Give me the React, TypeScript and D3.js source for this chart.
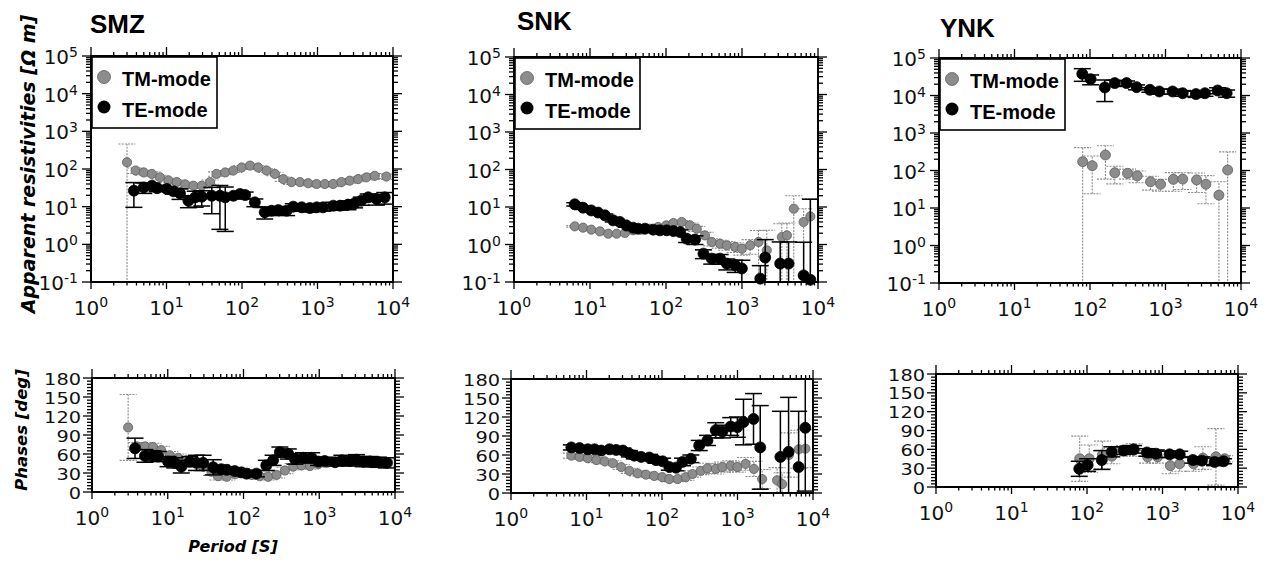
import React from 'react';
import * as d3 from 'd3';

// Periods [s], apparent resistivity [ohm m], phase [deg]; errors are +/- in the same units

// SMZ
const smzTmT = [3.0, 3.9, 5.0, 6.4, 8.2, 10.6, 13.7, 17.7, 22.8, 29.3, 37.8, 46, 60, 77, 99, 128, 164, 212, 273, 352, 453, 585, 753, 970, 1250, 1610, 2080, 2670, 3450, 4450, 5730, 8170];
const smzTmRho = [151, 91, 81, 74, 60, 50, 45, 39, 36, 36, 45, 74, 81, 91, 110, 123, 110, 91, 74, 54, 45, 45, 42, 40, 40, 40, 45, 49, 54, 60, 66, 63];
const smzTmRhoErr = [310, 15, 12, 10, 8, 7, 6, 6, 5, 5, 6, 10, 10, 10, 12, 12, 12, 10, 8, 7, 6, 6, 6, 6, 6, 6, 6, 7, 8, 9, 10, 10];
const smzTmPhi = [102, 72, 72, 71, 66, 58, 54, 50, 46, 40, 32, 25, 24, 28, 30, 27, 25, 24, 27, 34, 40, 42, 41, 44, 46, 47, 48, 48, 47, 47, 46, 46];
const smzTmPhiErr = [52, 6, 6, 6, 6, 6, 6, 6, 6, 6, 6, 6, 5, 5, 5, 5, 5, 5, 5, 5, 5, 5, 5, 5, 5, 5, 5, 5, 5, 5, 5, 5];

const smzTeT = [3.7, 5.0, 6.4, 7.5, 10.1, 12.4, 15.1, 19.5, 24, 29.3, 39.8, 51, 60, 77, 94, 110, 148, 200, 246, 302, 390, 478, 617, 794, 977, 1180, 1620, 1990, 2530, 3100, 3800, 4690, 6020, 7770];
const smzTeRho = [26.6, 32.5, 36, 31, 29.5, 25.5, 22.6, 14.4, 17.7, 18.4, 19.5, 19.5, 17.7, 19.5, 21.7, 20.4, 13, 7.1, 7.8, 8.1, 7.8, 10, 9.6, 9.2, 9.6, 9.6, 10.6, 10.6, 11.3, 12.3, 14.4, 17.7, 16, 17.7];
const smzTeRhoErr = [17, 10, 6, 6, 4, 4, 7, 5, 8, 8, 13, 17, 15.5, 3, 3, 4, 3, 2.4, 2, 2, 2, 2, 2, 2, 2, 2, 2.5, 2.5, 3, 3, 3.5, 4, 5, 6];
const smzTePhi = [69, 57, 57, 56, 48, 46, 40, 48, 46, 46, 39, 36, 35, 33, 31, 29, 29, 42, 50, 63, 60, 52, 54, 54, 48, 49, 47, 50, 49, 51, 48, 48, 47, 46];
const smzTePhiErr = [16, 10, 8, 8, 8, 8, 10, 8, 12, 12, 12, 6, 5, 5, 5, 5, 5, 8, 8, 8, 8, 8, 8, 8, 6, 6, 6, 8, 8, 8, 8, 8, 8, 8];

// SNK
const snkTmT = [6.3, 8.1, 10.4, 13.5, 17.4, 22.4, 28.8, 37, 47.6, 61.3, 78.8, 101, 125, 161, 207, 254, 326, 400, 515, 631, 813, 995, 1280, 1650, 2120, 3340, 3900, 4800, 6470, 7930];
const snkTmRho = [3.05, 2.81, 2.49, 2.24, 1.94, 1.94, 2.03, 2.39, 2.49, 2.64, 2.93, 3.24, 3.74, 3.98, 3.24, 2.64, 1.75, 1.17, 1.05, 0.95, 0.86, 0.77, 0.95, 1.17, 0.7, 1.58, 1.75, 9.0, 3.98, 5.6];
const snkTmRhoErr = [0.15, 0.15, 0.12, 0.1, 0.1, 0.1, 0.1, 0.12, 0.12, 0.15, 0.15, 0.2, 0.3, 0.4, 0.5, 0.4, 0.35, 0.25, 0.25, 0.25, 0.25, 0.25, 0.4, 1.2, 1.7, 2, 2, 11, 5, 11];
const snkTmPhi = [59, 57, 55, 52, 50, 47, 41, 35, 31, 29, 27, 25, 22, 22, 25, 30, 35, 39, 38, 41, 43, 41, 46, 38, 22, 20, 14, 60, 69, 70];
const snkTmPhiErr = [4, 4, 4, 4, 4, 4, 4, 4, 4, 4, 4, 4, 4, 4, 5, 5, 6, 8, 8, 8, 8, 8, 10, 12, 15, 20, 18, 35, 30, 30];

const snkTeT = [6.3, 8.1, 10.4, 12.8, 15.7, 20.2, 24.7, 30.3, 37, 43, 53, 68, 83, 102, 125, 153, 187, 241, 311, 400, 515, 631, 813, 995, 1740, 2020, 3180, 4100, 6470, 7930];
const snkTeRho = [11.8, 9.6, 8.1, 7.1, 6.0, 4.4, 4.0, 3.2, 2.8, 2.64, 2.64, 2.49, 2.39, 2.39, 2.29, 2.15, 1.43, 1.35, 0.57, 0.42, 0.42, 0.31, 0.28, 0.23, 0.123, 0.45, 0.31, 0.31, 0.15, 0.115];
const snkTeRhoErr = [1.2, 1, 0.8, 0.6, 0.5, 0.4, 0.35, 0.3, 0.25, 0.2, 0.2, 0.2, 0.2, 0.2, 0.2, 0.3, 0.3, 0.35, 0.15, 0.12, 0.12, 0.1, 0.1, 0.15, 0.15, 0.9, 0.86, 0.86, 1.0, 16];
const snkTePhT = [6.3, 8.1, 10.4, 12.8, 15.7, 20.2, 24.7, 30.3, 37, 43, 53, 68, 83, 102, 125, 153, 187, 241, 311, 400, 515, 631, 813, 995, 1200, 1630, 2000, 3700, 4750, 6450, 7900];
const snkTePhi = [72, 71, 69, 69, 67, 69, 68, 67, 62, 59, 57, 56, 52, 50, 41, 40, 49, 54, 75, 83, 99, 97, 105, 104, 112, 117, 72, 57, 65, 41, 103];
const snkTePhiErr = [4, 4, 4, 4, 4, 4, 4, 4, 5, 5, 5, 5, 5, 5, 5, 5, 6, 6, 8, 8, 12, 10, 14, 16, 36, 40, 66, 72, 86, 88, 100];

// YNK
const ynkTmT = [80, 107, 160, 213, 314, 422, 634, 860, 1270, 1690, 2580, 3430, 5100, 6660];
const ynkTmRho = [172, 134, 259, 87, 84, 72, 50, 43, 58, 59, 56, 43, 22, 103];
const ynkTmRhoErr = [236, 110, 200, 43, 25, 25, 20, 15, 30, 28, 30, 30, 28, 210];
const ynkTmPhi = [45, 45, 51, 49, 58, 59, 48, 48, 34, 37, 37, 46, 48, 45];
const ynkTmPhiErr = [36, 22, 22, 12, 8, 10, 10, 10, 13, 12, 12, 18, 45, 5];

const ynkTeT = [79, 102, 157, 213, 305, 414, 621, 827, 1240, 1690, 2530, 3330, 4900, 6450];
const ynkTeRho = [37900, 27300, 16400, 21400, 21400, 16700, 14200, 12800, 12800, 11500, 10900, 11500, 13600, 11500];
const ynkTeRhoErr = [14000, 8000, 9500, 4000, 3000, 2500, 2000, 2000, 2000, 2000, 2000, 2000, 2500, 2500];
const ynkTePhi = [29, 35, 43, 56, 58, 60, 55, 53, 52, 52, 43, 42, 40, 41];
const ynkTePhiErr = [12, 10, 15, 8, 6, 6, 6, 6, 5, 5, 5, 6, 6, 4];

const stations = ['SMZ', 'SNK', 'YNK'];
const legendLabels = ['TM-mode', 'TE-mode'];

const NUM_FONT = '"DejaVu Sans", sans-serif';
const BOLD_FONT = '"Liberation Sans", Arial, sans-serif';
const LABEL_FONT = '"DejaVu Sans", sans-serif';
const TM_FILL = '#8c8c8c';

interface Frame { x0: number; y0: number; w: number; h: number }
interface Mode { t: number[]; v: number[]; e: number[]; tm: boolean; r: number }

const isDecade = (t: number) => {
  const l = Math.log10(t);
  return Math.abs(l - Math.round(l)) < 1e-6;
};

function Panel({ id, f, kind, modes, legend }: { id: string; f: Frame; kind: 'rho' | 'phase'; modes: Mode[]; legend: boolean }) {
  const x = d3.scaleLog().domain([1, 1e4]).range([f.x0, f.x0 + f.w]);
  const yLog = d3.scaleLog().domain([0.1, 1e5]).range([f.y0 + f.h, f.y0]);
  const yLin = d3.scaleLinear().domain([0, 180]).range([f.y0 + f.h, f.y0]);
  const bot = f.y0 + f.h;
  const right = f.x0 + f.w;
  const yv = (v: number) => (kind === 'rho' ? (v > 0 ? yLog(v) : bot + 30) : yLin(v));

  const xt = x.ticks();
  const yt = kind === 'rho' ? yLog.ticks() : d3.range(0, 181, 5);
  const yMajor = (t: number) => (kind === 'rho' ? isDecade(t) : t % 30 === 0);
  const yPos = (t: number) => (kind === 'rho' ? yLog(t) : yLin(t));
  const capW = 8.5;

  return (
    <g>
      <clipPath id={id}>
        <rect x={f.x0} y={f.y0} width={f.w} height={f.h} />
      </clipPath>
      {modes.map((m, k) => (
        <g key={k}>
          <g clipPath={`url(#${id})`}
            stroke={m.tm ? '#8a8a8a' : '#000'}
            strokeWidth={m.tm ? 1.1 : 1.5}
            strokeDasharray={m.tm ? '2 1.2' : undefined}>
            {m.t.map((t, i) => {
              const cx = x(t);
              const lo = m.v[i] - m.e[i];
              const hi = yv(m.v[i] + m.e[i]);
              const ly = yv(lo);
              return (
                <g key={i}>
                  <line x1={cx} x2={cx} y1={ly} y2={hi} />
                  <line x1={cx - capW} x2={cx + capW} y1={hi} y2={hi} />
                  {(kind === 'phase' || lo > 0) && <line x1={cx - capW} x2={cx + capW} y1={ly} y2={ly} />}
                </g>
              );
            })}
          </g>
          <g>
            {m.t.map((t, i) => (
              <circle key={i} cx={x(t)} cy={yv(m.v[i])} r={m.r}
                fill={m.tm ? TM_FILL : '#000'}
                stroke={m.tm ? '#5e5e5e' : '#000'} strokeWidth={0.8} />
            ))}
          </g>
        </g>
      ))}

      <rect x={f.x0} y={f.y0} width={f.w} height={f.h} fill="none" stroke="#000" strokeWidth={2} />

      <g stroke="#000" strokeWidth={1.3}>
        {xt.map((t, i) => {
          const major = isDecade(t);
          const px = x(t);
          return (
            <g key={i}>
              <line x1={px} x2={px} y1={f.y0} y2={f.y0 - (major ? 9 : 4)} />
              <line x1={px} x2={px} y1={bot} y2={bot + (major ? 7 : 3.5)} />
            </g>
          );
        })}
        {yt.map((t, i) => {
          const major = yMajor(t);
          const py = yPos(t);
          return (
            <g key={i}>
              <line x1={f.x0} x2={f.x0 - (major ? 9 : 5)} y1={py} y2={py} />
              <line x1={right} x2={right + (major ? 9 : 5)} y1={py} y2={py} />
            </g>
          );
        })}
      </g>

      <g fontFamily={NUM_FONT} fill="#111">
        {xt.filter(isDecade).map((t, i) => (
          <text key={i} x={x(t)} y={bot + 33} textAnchor="middle" fontSize={20}>
            10<tspan dy={-8} fontSize={14}>{Math.round(Math.log10(t))}</tspan>
          </text>
        ))}
        {kind === 'rho'
          ? yt.filter(isDecade).map((t, i) => (
            <text key={i} x={f.x0 - 13} y={yLog(t) + 8} textAnchor="end" fontSize={20}>
              10<tspan dy={-7} fontSize={14}>{Math.round(Math.log10(t))}</tspan>
            </text>
          ))
          : d3.range(0, 181, 30).map((t, i) => {
            const s = String(t);
            return (
              <text key={i} x={f.x0 - 11} y={yLin(t) + 6.5} textAnchor="end" fontSize={16}
                textLength={s.length * 12.3} lengthAdjust="spacingAndGlyphs">{s}</text>
            );
          })}
      </g>

      {legend && (
        <g>
          <rect x={f.x0 + 1} y={f.y0 + 1} width={125} height={71} fill="#fff" stroke="#000" strokeWidth={1.6} />
          <circle cx={f.x0 + 13} cy={f.y0 + 21} r={6.5} fill={TM_FILL} stroke="#5e5e5e" strokeWidth={0.8} />
          <circle cx={f.x0 + 13} cy={f.y0 + 51} r={6.5} fill="#000" />
          <g fontFamily={BOLD_FONT} fontWeight="bold" fontSize={20} fill="#000">
            <text x={f.x0 + 31} y={f.y0 + 30}>{legendLabels[0]}</text>
            <text x={f.x0 + 31} y={f.y0 + 61}>{legendLabels[1]}</text>
          </g>
        </g>
      )}
    </g>
  );
}

const topFrames: Frame[] = [
  { x0: 91, y0: 56, w: 302, h: 226 },
  { x0: 514, y0: 57, w: 304, h: 225 },
  { x0: 939, y0: 58, w: 302, h: 225 },
];
const botFrames: Frame[] = [
  { x0: 92, y0: 378, w: 303, h: 114 },
  { x0: 511, y0: 379, w: 302, h: 114 },
  { x0: 936, y0: 374, w: 302, h: 113 },
];
const titlePos = [
  { x: 90, y: 33 },
  { x: 517, y: 30 },
  { x: 940, y: 37 },
];

export default function App() {
  const rhoModes: Mode[][] = [
    [
      { t: smzTmT, v: smzTmRho, e: smzTmRhoErr, tm: true, r: 4.6 },
      { t: smzTeT, v: smzTeRho, e: smzTeRhoErr, tm: false, r: 5.5 },
    ],
    [
      { t: snkTmT, v: snkTmRho, e: snkTmRhoErr, tm: true, r: 4.6 },
      { t: snkTeT, v: snkTeRho, e: snkTeRhoErr, tm: false, r: 5.5 },
    ],
    [
      { t: ynkTmT, v: ynkTmRho, e: ynkTmRhoErr, tm: true, r: 5 },
      { t: ynkTeT, v: ynkTeRho, e: ynkTeRhoErr, tm: false, r: 5.5 },
    ],
  ];
  const phiModes: Mode[][] = [
    [
      { t: smzTmT, v: smzTmPhi, e: smzTmPhiErr, tm: true, r: 4.6 },
      { t: smzTeT, v: smzTePhi, e: smzTePhiErr, tm: false, r: 5.5 },
    ],
    [
      { t: snkTmT, v: snkTmPhi, e: snkTmPhiErr, tm: true, r: 4.6 },
      { t: snkTePhT, v: snkTePhi, e: snkTePhiErr, tm: false, r: 5.5 },
    ],
    [
      { t: ynkTmT, v: ynkTmPhi, e: ynkTmPhiErr, tm: true, r: 5 },
      { t: ynkTeT, v: ynkTePhi, e: ynkTePhiErr, tm: false, r: 5.5 },
    ],
  ];

  return (
    <svg width={1266} height={561} style={{ position: 'absolute', left: 0, top: 0, background: '#fff' }}>
      <rect width={1266} height={561} fill="#fff" />
      {stations.map((s, i) => (
        <text key={s} x={titlePos[i].x} y={titlePos[i].y} fontFamily={BOLD_FONT} fontWeight="bold" fontSize={26}>{s}</text>
      ))}
      {stations.map((s, i) => (
        <Panel key={'r' + s} id={'clipR' + i} f={topFrames[i]} kind="rho" modes={rhoModes[i]} legend={true} />
      ))}
      {stations.map((s, i) => (
        <Panel key={'p' + s} id={'clipP' + i} f={botFrames[i]} kind="phase" modes={phiModes[i]} legend={false} />
      ))}
      <g fontFamily={LABEL_FONT} fontWeight="bold" fontStyle="italic" fill="#000">
        <text transform="translate(35,164) rotate(-90)" textAnchor="middle" fontSize={19}>Apparent resistivities [Ω m]</text>
        <text transform="translate(27,430) rotate(-90)" textAnchor="middle" fontSize={16.5}>Phases [deg]</text>
        <text x={233} y={552} textAnchor="middle" fontSize={16}>Period [S]</text>
      </g>
    </svg>
  );
}
